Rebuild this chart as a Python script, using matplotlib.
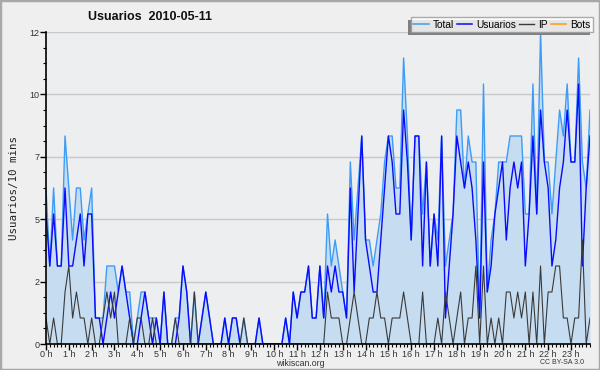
import matplotlib
matplotlib.use("Agg")
import matplotlib.pyplot as plt
import numpy as np
from matplotlib.patches import Rectangle
from matplotlib.lines import Line2D

plt.rcParams["font.family"] = ["Liberation Sans", "DejaVu Sans"]

hours = [f"{h} h" for h in range(24)]
usuarios = [5,3,5,3,3,6,3,3,4,5,3,5,5,1,1,0,1,2,1,2,3,2,1,0,
            0,1,2,1,0,1,0,2,0,0,0,1,3,2,0,0,0,1,2,1,0,0,0,1,
            0,1,1,0,0,0,0,0,1,0,0,0,0,0,0,1,0,2,1,2,2,3,1,1,
            3,1,3,2,3,2,2,1,6,2,5,8,4,3,2,2,4,6,8,7,5,5,9,7,
            4,8,8,3,7,3,5,3,8,1,3,5,8,7,6,7,6,4,1,7,2,3,5,6,
            7,4,6,7,6,7,3,5,8,5,9,7,6,3,4,6,7,9,7,7,10,3,6,8]
ip = [1,0,1,0,0,2,3,1,2,1,1,0,1,0,0,1,2,1,2,0,0,0,1,0,
      1,1,0,0,1,0,0,0,0,0,1,0,0,0,0,2,0,0,0,0,0,0,0,0,
      0,0,0,0,1,0,0,0,0,0,0,0,0,0,0,0,0,0,0,0,0,0,0,0,
      0,0,2,1,1,1,0,0,1,2,1,0,0,1,1,2,1,1,0,1,1,1,2,1,
      0,0,0,2,0,0,0,1,0,2,1,0,1,2,0,1,1,3,0,3,0,1,0,1,
      0,2,2,1,2,1,2,0,2,0,3,0,2,2,3,3,1,1,0,1,1,4,0,1]
total = [6,3,6,3,3,8,6,4,6,6,4,5,6,1,1,1,3,3,3,2,3,2,2,0,
         1,2,2,1,1,1,0,2,0,0,1,1,3,2,0,2,0,1,2,1,0,0,0,1,
         0,1,1,0,1,0,0,0,1,0,0,0,0,0,0,1,0,2,1,2,2,3,1,1,
         3,1,5,3,4,3,2,1,7,4,6,8,4,4,3,4,5,7,8,8,6,6,11,8,
         4,8,8,5,7,3,5,4,8,3,4,5,9,9,6,8,7,7,1,10,2,4,5,7,
         7,7,8,8,8,8,5,5,10,5,12,7,7,5,7,9,8,10,7,7,11,7,6,9]
bots = [0]*144

x = np.arange(len(total))

fig = plt.figure(figsize=(6.0, 3.7), dpi=100, facecolor="#efeff0")
ax = fig.add_axes([46/600, 1-344/370, 544/600, 312/370])
ax.set_facecolor("#edeef0")

ax.fill_between(x, total, 0, color="#c6dcf0", lw=0, zorder=1)
ax.plot(x, total, color="#3d9cf5", lw=1.0, zorder=3)
ax.plot(x, usuarios, color="#0a0aff", lw=1.0, zorder=4)
ax.plot(x, ip, color="#3a3a3a", lw=0.8, zorder=5)
ax.plot(x, bots, color="#ff9a10", lw=1.0, zorder=2, alpha=0.0)

ax.set_xlim(0, 143)
ax.set_ylim(0, 12)
yt = [0, 2.4, 4.8, 7.2, 9.6, 12]
ax.set_yticks(yt)
ax.set_yticklabels(["0", "2", "5", "7", "10", "12"])
ax.set_yticks(np.arange(0, 12.01, 0.6), minor=True)
ax.set_xticks(np.arange(0, 144, 6))
ax.set_xticklabels(hours)
ax.set_xticks(np.arange(0, 144, 1), minor=True)
for v in yt[1:]:
    ax.axhline(v, color="#c8c8c8", lw=1.0, zorder=0)

for s in ["top", "right"]:
    ax.spines[s].set_visible(False)
for s in ["left", "bottom"]:
    ax.spines[s].set_color("black")
    ax.spines[s].set_linewidth(1.2)
    ax.spines[s].set_zorder(6)
ax.tick_params(axis="both", which="major", labelsize=6.5, colors="black",
               labelcolor="#333333", length=4, width=1, pad=0.5)
ax.tick_params(axis="x", which="minor", length=2.5, width=0.8)
ax.tick_params(axis="y", which="minor", length=2.5, width=0.8)

ax.set_ylabel("Usuarios/10 mins", fontsize=7.8, color="#222222", labelpad=8,
              family="DejaVu Sans Mono")
fig.text(150/600, 1-17/370, "Usuarios  2010-05-11", ha="center", va="center",
         fontsize=9, fontweight="bold", color="#111111")
fig.text(300/600, 1-363.5/370, "wikiscan.org", ha="center", va="center",
         fontsize=6.3, color="#333333")
fig.text(562/600, 1-363/370, "CC BY-SA 3.0", ha="center", va="center",
         fontsize=5, color="#333333")

handles = [Line2D([], [], color="#3d9cf5", lw=1.1),
           Line2D([], [], color="#0a0aff", lw=1.1),
           Line2D([], [], color="#3a3a3a", lw=1.0),
           Line2D([], [], color="#ff9a10", lw=1.1)]
leg = fig.legend(handles, ["Total", "Usuarios", "IP", "Bots"], ncol=4,
                 loc="upper right", bbox_to_anchor=(593/600, 1-17/370),
                 fontsize=7.3, frameon=True, fancybox=False, shadow=False,
                 handlelength=1.5, handletextpad=0.4, columnspacing=0.3,
                 borderpad=0.25, borderaxespad=0)
leg.get_frame().set_edgecolor("#999999")
leg.get_frame().set_linewidth(1.0)
leg.get_frame().set_facecolor("white")
leg.set_zorder(10)

fig.canvas.draw()
bb = leg.get_window_extent()
inv = fig.transFigure.inverted()
(x0, y0), (x1, y1) = inv.transform([[bb.x0 - 3, bb.y0 - 3], [bb.x1 - 3, bb.y1 - 3]])
fig.add_artist(Rectangle((x0, y0), x1 - x0, y1 - y0, transform=fig.transFigure,
                         facecolor="#808080", edgecolor="none", zorder=9))

fig.add_artist(Rectangle((0, 0), 1, 1, transform=fig.transFigure, fill=False,
                         edgecolor="#a8a8a8", lw=2.5))

fig.savefig("out.png", dpi=100, facecolor=fig.get_facecolor())
